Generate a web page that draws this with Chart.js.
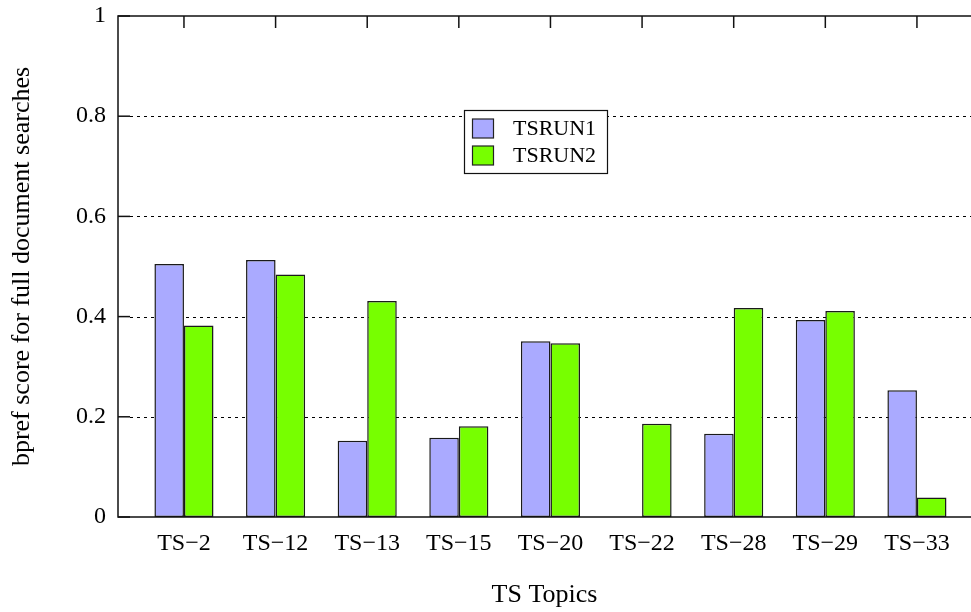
<!DOCTYPE html>
<html>
<head>
<meta charset="utf-8">
<script src="https://cdn.jsdelivr.net/npm/chart.js@4"></script>
<style>
  html, body { margin: 0; padding: 0; background: #fff; }
  #wrap { width: 971px; height: 612px; }
</style>
</head>
<body>
<div id="wrap"><canvas id="c" width="971" height="612"></canvas></div>
<script>
// bpref per TS topic, two runs
const topics = ['TS\u22122', 'TS\u221212', 'TS\u221213', 'TS\u221215', 'TS\u221220',
                'TS\u221222', 'TS\u221228', 'TS\u221229', 'TS\u221233'];
const tsrun1 = [0.505, 0.513, 0.152, 0.158, 0.351, 0, 0.166, 0.393, 0.253];
const tsrun2 = [0.382, 0.484, 0.431, 0.181, 0.347, 0.186, 0.417, 0.411, 0.039];
const yTicks = [0, 0.2, 0.4, 0.6, 0.8, 1];

const SERIF = '"Liberation Serif", "Times New Roman", serif';
const toPoints = arr => arr.map((v, i) => ({ x: i, y: v }));

// frame, inner ticks, dotted grid and the boxed legend
const framePlugin = {
  id: 'frame',
  beforeDatasetsDraw(chart) {
    const { ctx, chartArea: a, scales: { y } } = chart;
    ctx.save();
    ctx.strokeStyle = '#000';
    ctx.lineWidth = 1;
    ctx.setLineDash([3, 4]);
    yTicks.forEach(v => {
      if (v <= 0 || v >= 1) return;
      const py = Math.round(y.getPixelForValue(v)) + 0.5;
      ctx.beginPath();
      ctx.moveTo(a.left + 12, py);
      ctx.lineTo(a.right, py);
      ctx.stroke();
    });
    ctx.restore();
  },
  afterDatasetsDraw(chart) {
    const { ctx, chartArea: a, scales: { x, y } } = chart;
    ctx.save();
    ctx.strokeStyle = '#111';
    ctx.lineWidth = 1.5;
    ctx.setLineDash([]);
    // axes: left, bottom, top
    ctx.beginPath();
    ctx.moveTo(a.right, a.top);
    ctx.lineTo(a.left, a.top);
    ctx.lineTo(a.left, a.bottom);
    ctx.lineTo(a.right, a.bottom);
    ctx.stroke();
    // inward ticks on the value axis
    yTicks.forEach(v => {
      const py = y.getPixelForValue(v);
      ctx.beginPath();
      ctx.moveTo(a.left, py);
      ctx.lineTo(a.left + 12, py);
      ctx.stroke();
    });
    // downward ticks on the top edge at each topic
    topics.forEach((t, i) => {
      const px = x.getPixelForValue(i);
      ctx.beginPath();
      ctx.moveTo(px, a.top);
      ctx.lineTo(px, a.top + 12);
      ctx.stroke();
    });
    ctx.restore();
  },
  afterDraw(chart) {
    const { ctx } = chart;
    const bx = 464, by = 110, bw = 143, bh = 63;
    ctx.save();
    ctx.fillStyle = '#fff';
    ctx.fillRect(bx, by, bw, bh);
    ctx.strokeStyle = '#111';
    ctx.lineWidth = 1.2;
    ctx.strokeRect(bx + 0.5, by + 0.5, bw, bh);
    ctx.font = '22px ' + SERIF;
    ctx.textBaseline = 'middle';
    ctx.textAlign = 'left';
    chart.data.datasets.forEach((ds, i) => {
      const cy = 128.5 + i * 27;
      ctx.fillStyle = ds.backgroundColor;
      ctx.fillRect(472.5, cy - 9.5, 21, 19);
      ctx.strokeStyle = '#222';
      ctx.lineWidth = 1.2;
      ctx.strokeRect(472.5, cy - 9.5, 21, 19);
      ctx.fillStyle = '#000';
      ctx.fillText(ds.label, 513, cy + 1);
    });
    ctx.restore();
  }
};

new Chart(document.getElementById('c'), {
  type: 'bar',
  data: {
    datasets: [
      { label: 'TSRUN1', data: toPoints(tsrun1), backgroundColor: '#aaaaff',
        borderColor: '#1a1a1a', borderWidth: 1.5, borderSkipped: false },
      { label: 'TSRUN2', data: toPoints(tsrun2), backgroundColor: '#77ff00',
        borderColor: '#1a1a1a', borderWidth: 1.5, borderSkipped: false }
    ]
  },
  options: {
    responsive: false,
    animation: false,
    layout: { padding: { top: 16, right: 0, left: 0, bottom: 0 } },
    datasets: { bar: { categoryPercentage: 0.645, barPercentage: 1 } },
    plugins: { legend: { display: false }, tooltip: { enabled: false } },
    scales: {
      x: {
        type: 'linear',
        min: -0.72,
        max: 8.59,
        offset: false,
        grid: { display: false, drawTicks: false },
        border: { display: false },
        afterBuildTicks(s) { s.ticks = topics.map((t, i) => ({ value: i })); },
        afterFit(s) { s.height = 95; s.paddingLeft = 0; s.paddingRight = 0; },
        ticks: {
          autoSkip: false,
          maxRotation: 0,
          padding: 12,
          color: '#000',
          font: { family: SERIF, size: 24 },
          callback: v => topics[v]
        },
        title: {
          display: true,
          text: 'TS Topics',
          color: '#000',
          font: { family: SERIF, size: 26, lineHeight: 1 },
          padding: { top: 0, bottom: 4 }
        }
      },
      y: {
        min: 0,
        max: 1,
        grid: { display: false, drawTicks: false },
        border: { display: false },
        afterBuildTicks(s) { s.ticks = yTicks.map(v => ({ value: v })); },
        afterFit(s) { s.width = 118; s.paddingTop = 0; s.paddingBottom = 0; },
        ticks: {
          padding: 12,
          color: '#000',
          font: { family: SERIF, size: 24 },
          callback: v => String(v)
        },
        title: {
          display: true,
          text: 'bpref score for full document searches',
          color: '#000',
          font: { family: SERIF, size: 26, lineHeight: 1 },
          padding: { top: 9, bottom: 0 }
        }
      }
    }
  },
  plugins: [framePlugin]
});
</script>
</body>
</html>
